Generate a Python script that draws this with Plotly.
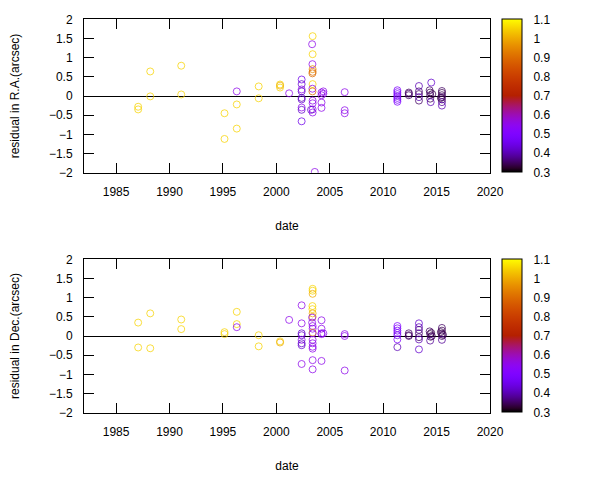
import numpy as np
import plotly.graph_objects as go

# ---------------- data ----------------
ra_date = [1987.07, 1987.07, 1988.2, 1988.2, 1991.1, 1991.1, 1995.15, 1995.15,
           1996.3, 1996.3, 1996.3, 1998.35, 1998.35, 2000.35, 2000.35, 2000.35,
           2001.2,
           2002.37, 2002.37, 2002.37, 2002.37, 2002.37, 2002.37, 2002.37, 2002.37, 2002.37,
           2003.4, 2003.35, 2003.4, 2003.38, 2003.4, 2003.4, 2003.38, 2003.4, 2003.38, 2003.38,
           2003.4, 2003.4, 2003.4, 2003.4, 2003.25, 2003.6,
           2004.23, 2004.23, 2004.23, 2004.23, 2004.4, 2004.4,
           2006.4, 2006.4, 2006.4,
           2011.33, 2011.33, 2011.33, 2011.33, 2011.33, 2011.33, 2011.33,
           2012.4, 2012.4, 2012.4,
           2013.35, 2013.35, 2013.35, 2013.35, 2013.35,
           2014.5, 2014.35, 2014.4, 2014.4, 2014.4, 2014.45, 2014.6,
           2015.5, 2015.5, 2015.5, 2015.5, 2015.5, 2015.5, 2015.5, 2015.4]
ra_res = [-0.28, -0.35, 0.64, -0.01, 0.79, 0.04, -0.45, -1.12,
          0.12, -0.22, -0.85, 0.25, -0.06, 0.30, 0.22, 0.27,
          0.07,
          0.43, 0.31, 0.17, 0.12, -0.05, -0.09, -0.30, -0.36, -0.66,
          1.56, 1.35, 1.09, 0.83, 0.70, 0.63, 0.59, 0.31, 0.19, 0.12,
          -0.12, -0.19, -0.35, -0.43, -0.36, -1.98,
          0.09, 0.02, -0.17, -0.31, 0.12, 0.06,
          0.10, -0.37, -0.45,
          0.15, 0.10, 0.05, 0.00, -0.05, -0.10, -0.15,
          0.09, 0.02, 0.06,
          0.26, 0.12, 0.05, -0.03, -0.12,
          0.35, 0.15, 0.09, 0.02, -0.07, -0.16, 0.05,
          0.13, 0.08, 0.02, -0.03, -0.09, -0.16, -0.25, -0.05]
ra_w = [1.05, 1.05, 1.05, 1.05, 1.05, 1.05, 1.05, 1.05,
        0.55, 1.05, 1.05, 1.05, 1.05, 1.05, 1.05, 1.0,
        0.55,
        0.45, 0.42, 0.55, 0.42, 0.40, 0.42, 0.55, 0.42, 0.45,
        1.05, 0.55, 1.05, 0.55, 0.95, 0.9, 0.9, 1.05, 0.55, 0.9,
        0.55, 0.55, 0.55, 0.55, 0.42, 0.55,
        0.55, 0.55, 0.55, 0.55, 0.55, 0.55,
        0.55, 0.55, 0.55,
        0.50, 0.48, 0.50, 0.45, 0.50, 0.48, 0.50,
        0.35, 0.35, 0.35,
        0.40, 0.36, 0.35, 0.40, 0.35,
        0.42, 0.35, 0.34, 0.35, 0.34, 0.40, 0.34,
        0.35, 0.34, 0.34, 0.35, 0.34, 0.38, 0.40, 0.34]

dec_date = [1987.07, 1987.07, 1988.2, 1988.2, 1991.1, 1991.1, 1995.15, 1995.15,
            1996.3, 1996.3, 1996.3, 1998.35, 1998.35, 2000.35, 2000.35,
            2001.2,
            2002.37, 2002.37, 2002.37, 2002.37, 2002.37, 2002.37, 2002.37, 2002.37,
            2003.4, 2003.4, 2003.4, 2003.38, 2003.38, 2003.4, 2003.4, 2003.35,
            2003.35, 2003.4, 2003.4, 2003.4, 2003.4, 2003.4, 2003.4, 2003.4,
            2003.4, 2003.4, 2003.4,
            2004.23, 2004.23, 2004.23, 2004.23, 2004.23, 2004.4,
            2006.4, 2006.4, 2006.4,
            2011.33, 2011.33, 2011.33, 2011.33, 2011.33, 2011.33, 2011.33,
            2012.4, 2012.4, 2012.4,
            2013.35, 2013.35, 2013.35, 2013.35, 2013.35, 2013.35, 2013.35,
            2014.35, 2014.4, 2014.45, 2014.5, 2014.4, 2014.55,
            2015.5, 2015.5, 2015.5, 2015.5, 2015.5, 2015.4, 2015.6]
dec_res = [0.35, -0.30, 0.59, -0.32, 0.43, 0.18, 0.10, 0.05,
           0.63, 0.31, 0.23, 0.02, -0.27, -0.14, -0.17,
           0.42,
           0.80, 0.33, 0.07, 0.02, -0.10, -0.19, -0.24, -0.73,
           1.23, 1.18, 1.10, 0.78, 0.70, 0.59, 0.50, 0.48,
           0.35, 0.26, 0.19, 0.09, 0.07, -0.10, -0.19, -0.28,
           -0.33, -0.63, -0.87,
           0.41, 0.19, 0.07, 0.05, -0.65, 0.07,
           0.05, 0.00, -0.90,
           0.26, 0.20, 0.14, 0.08, 0.02, -0.09, -0.29,
           0.07, 0.02, 0.00,
           0.33, 0.23, 0.16, 0.07, -0.03, -0.09, -0.35,
           0.12, 0.05, -0.02, 0.08, -0.12, 0.00,
           0.21, 0.14, 0.06, 0.00, -0.10, 0.10, 0.03]
dec_w = [1.05, 1.05, 1.05, 1.05, 1.05, 1.05, 1.05, 1.05,
         1.05, 1.05, 0.55, 1.05, 1.05, 1.05, 1.0,
         0.55,
         0.55, 0.55, 0.42, 0.42, 0.55, 0.42, 0.42, 0.55,
         1.05, 1.05, 1.0, 1.05, 1.05, 1.0, 1.0, 0.55,
         0.55, 0.55, 0.55, 1.0, 0.55, 0.55, 0.55, 0.55,
         0.55, 0.55, 0.55,
         0.55, 0.55, 0.50, 0.55, 0.55, 0.55,
         0.55, 0.55, 0.55,
         0.50, 0.50, 0.48, 0.50, 0.45, 0.50, 0.40,
         0.35, 0.35, 0.35,
         0.42, 0.40, 0.37, 0.36, 0.35, 0.40, 0.42,
         0.35, 0.34, 0.35, 0.34, 0.38, 0.34,
         0.35, 0.34, 0.34, 0.35, 0.38, 0.34, 0.34]

cb_ticks = [0.3, 0.4, 0.5, 0.6, 0.7, 0.8, 0.9, 1.0, 1.1]
y_ticks = [-2, -1.5, -1, -0.5, 0, 0.5, 1, 1.5, 2]
x_ticks = [1985, 1990, 1995, 2000, 2005, 2010, 2015, 2020]

# ---------------- gnuplot default palette (rgbformulae 7,5,15) ----------------
def gp_color(t):
    r = np.sqrt(t)
    g = t ** 3
    b = max(0.0, np.sin(2 * np.pi * t))
    return "rgb(%d,%d,%d)" % (round(r * 255), round(g * 255), round(b * 255))

stops = np.linspace(0, 1, 41)
cscale = [[float(s), gp_color(float(s))] for s in stops]

FONT = "Liberation Sans, Arial, sans-serif"

fig = go.Figure()
fig.add_trace(go.Scatter(
    x=ra_date, y=ra_res, mode="markers", xaxis="x", yaxis="y",
    marker=dict(symbol="circle-open", size=7, color=ra_w, coloraxis="coloraxis",
                line=dict(width=1), opacity=0.75),
    showlegend=False))
fig.add_trace(go.Scatter(
    x=dec_date, y=dec_res, mode="markers", xaxis="x2", yaxis="y2",
    marker=dict(symbol="circle-open", size=7, color=dec_w, coloraxis="coloraxis2",
                line=dict(width=1), opacity=0.75),
    showlegend=False))

xd = [84 / 600, 490 / 600]
yd_top = [1 - 172.7 / 480, 1 - 19.3 / 480]
yd_bot = [1 - 412.7 / 480, 1 - 259.3 / 480]

def xaxis(anchor):
    return dict(domain=xd, range=[1982, 2020], tickvals=x_ticks, anchor=anchor,
                ticks="inside", ticklen=10, tickcolor="black", showline=True,
                linecolor="black", linewidth=1, mirror="ticks", showgrid=False,
                zeroline=False, tickfont=dict(family=FONT, size=12, color="black"),
                title=dict(text="date", font=dict(family=FONT, size=12, color="black"),
                           standoff=23),
                ticklabelstandoff=8, automargin=False)

def yaxis(domain, anchor, title):
    return dict(domain=domain, range=[-2, 2], tickvals=y_ticks, anchor=anchor,
                ticks="inside", ticklen=10, tickcolor="black", showline=True,
                linecolor="black", linewidth=1, mirror="ticks", showgrid=False,
                zeroline=True, zerolinecolor="black", zerolinewidth=1,
                tickfont=dict(family=FONT, size=12, color="black"),
                title=dict(text=title, font=dict(family=FONT, size=12, color="black"),
                           standoff=26),
                ticklabelstandoff=8, automargin=False)

def cbar(y_top):
    return dict(cmin=0.3, cmax=1.1, colorscale=cscale,
                colorbar=dict(x=502 / 600, xanchor="left", xpad=0, ypad=0,
                              y=y_top, yanchor="top", len=153.4 / 480, lenmode="fraction",
                              thickness=20, outlinecolor="black", outlinewidth=1,
                              tickvals=cb_ticks, ticks="outside", ticklen=9,
                              tickcolor="rgba(0,0,0,0)", tickwidth=1,
                              tickfont=dict(family=FONT, size=12, color="black")))

fig.update_layout(
    width=600, height=480, margin=dict(l=0, r=0, t=0, b=0, autoexpand=False),
    paper_bgcolor="white", plot_bgcolor="white",
    xaxis=xaxis("y"), yaxis=yaxis(yd_top, "x", "residual in R.A.(arcsec)"),
    xaxis2=xaxis("y2"), yaxis2=yaxis(yd_bot, "x2", "residual in Dec.(arcsec)"),
    coloraxis=cbar(yd_top[1]), coloraxis2=cbar(yd_bot[1]),
)

fig.write_html("out.html")
